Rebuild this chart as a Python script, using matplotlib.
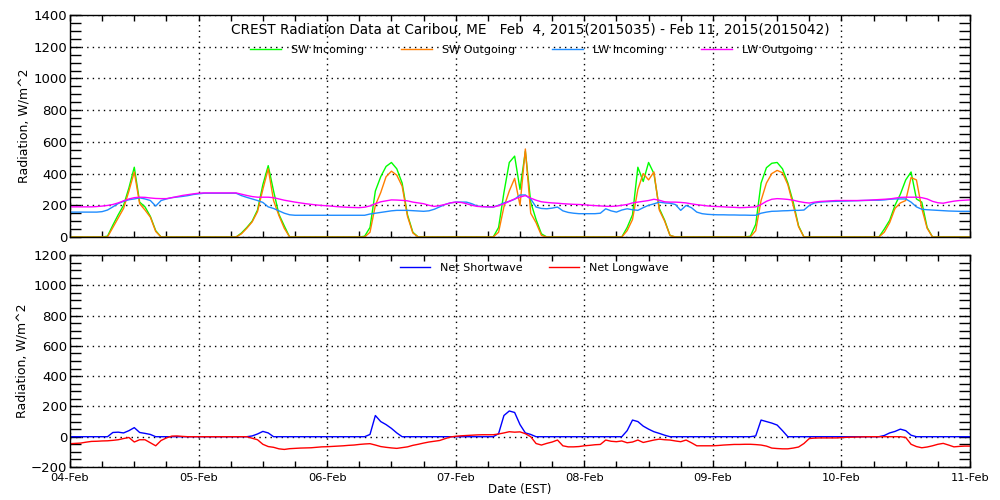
import numpy as np
import pandas as pd
import matplotlib
matplotlib.use('Agg')
import matplotlib.pyplot as plt
import matplotlib.dates as mdates
import matplotlib.transforms as mtransforms

# hourly samples, Feb 4 00:00 EST .. Feb 11 00:00 EST
times = pd.date_range('2015-02-04 00:00', periods=169, freq='h')

# W/m^2, one row per day (24 hourly values), last value = Feb 11 00:00
sw_in = [
    0, 0, 0, 0, 0, 0, 0, 5, 75, 140, 200, 310, 440, 220, 190, 130, 40, 0, 0, 0, 0, 0, 0, 0,
    0, 0, 0, 0, 0, 0, 0, 0, 25, 60, 100, 170, 330, 450, 290, 143, 70, 0, 0, 0, 0, 0, 0, 0,
    0, 0, 0, 0, 0, 0, 0, 5, 60, 290, 380, 445, 470, 430, 340, 140, 30, 0, 0, 0, 0, 0, 0, 0,
    0, 0, 0, 0, 0, 0, 0, 0, 60, 280, 470, 510, 300, 540, 220, 110, 20, 0, 0, 0, 0, 0, 0, 0,
    0, 0, 0, 0, 0, 0, 0, 0, 60, 140, 440, 350, 470, 400, 180, 106, 10, 0, 0, 0, 0, 0, 0, 0,
    0, 0, 0, 0, 0, 0, 0, 5, 80, 340, 437, 465, 470, 430, 340, 220, 70, 0, 0, 0, 0, 0, 0, 0,
    0, 0, 0, 0, 0, 0, 0, 0, 50, 105, 200, 270, 360, 410, 240, 220, 60, 0, 0, 0, 0, 0, 0, 0,
    0]

sw_out = [
    0, 0, 0, 0, 0, 0, 0, 0, 60, 120, 180, 290, 410, 210, 170, 125, 35, 0, 0, 0, 0, 0, 0, 0,
    0, 0, 0, 0, 0, 0, 0, 0, 20, 55, 95, 160, 300, 430, 230, 135, 55, 0, 0, 0, 0, 0, 0, 0,
    0, 0, 0, 0, 0, 0, 0, 0, 30, 200, 280, 380, 415, 390, 320, 130, 25, 0, 0, 0, 0, 0, 0, 0,
    0, 0, 0, 0, 0, 0, 0, 0, 30, 190, 290, 370, 200, 555, 150, 90, 10, 0, 0, 0, 0, 0, 0, 0,
    0, 0, 0, 0, 0, 0, 0, 0, 40, 110, 300, 400, 360, 410, 170, 100, 10, 0, 0, 0, 0, 0, 0, 0,
    0, 0, 0, 0, 0, 0, 0, 0, 40, 230, 340, 400, 420, 405, 330, 200, 65, 0, 0, 0, 0, 0, 0, 0,
    0, 0, 0, 0, 0, 0, 0, 0, 30, 90, 180, 215, 230, 375, 360, 180, 55, 0, 0, 0, 0, 0, 0, 0,
    0]

lw_in = [
    157, 157, 157, 157, 157, 157, 160, 170, 190, 211, 225, 235, 240, 247, 240, 230, 195, 230, 240, 248, 252, 256, 261, 268,
    272, 276, 276, 276, 276, 276, 276, 276, 261, 250, 240, 230, 218, 190, 180, 165, 150, 140, 137, 137, 137, 137, 137, 137,
    137, 137, 137, 137, 137, 137, 137, 137, 145, 150, 155, 160, 165, 168, 168, 168, 166, 164, 162, 165, 175, 190, 205, 215,
    220, 220, 220, 210, 195, 192, 190, 189, 200, 215, 225, 238, 265, 265, 240, 189, 180, 178, 182, 189, 165, 155, 150, 147,
    147, 147, 147, 150, 178, 165, 157, 170, 178, 172, 168, 185, 200, 209, 220, 215, 213, 205, 168, 199, 185, 157, 147, 143,
    141, 140, 140, 139, 139, 138, 138, 137, 137, 150, 157, 162, 163, 165, 166, 168, 168, 170, 199, 215, 220, 222, 224, 225,
    226, 227, 228, 229, 230, 231, 232, 232, 234, 238, 240, 240, 240, 220, 190, 175, 172, 170, 168, 166, 164, 163, 162, 162,
    162]

lw_out = [
    190, 190, 190, 190, 190, 192, 195, 199, 205, 215, 228, 240, 248, 251, 250, 246, 243, 242, 242, 248, 255, 262, 267, 272,
    276, 278, 278, 278, 278, 278, 278, 278, 270, 262, 255, 251, 251, 251, 248, 240, 232, 226, 220, 215, 210, 206, 202, 199,
    197, 194, 191, 189, 187, 186, 185, 188, 196, 210, 222, 228, 234, 233, 231, 228, 220, 215, 210, 200, 193, 198, 205, 215,
    220, 218, 210, 200, 193, 191, 190, 189, 198, 209, 225, 240, 252, 261, 245, 232, 222, 218, 215, 213, 210, 208, 206, 205,
    203, 200, 198, 196, 194, 193, 195, 200, 205, 215, 220, 225, 230, 238, 232, 222, 220, 220, 218, 215, 209, 204, 200, 196,
    193, 192, 190, 188, 187, 185, 186, 188, 190, 205, 225, 238, 242, 240, 237, 232, 224, 218, 214, 220, 224, 226, 228, 230,
    230, 230, 230, 230, 231, 232, 234, 236, 238, 240, 245, 250, 251, 251, 251, 248, 240, 225, 216, 213, 220, 226, 230, 232,
    234]

net_sw = [
    0, 0, 0, 0, 0, 0, 0, 0, 28, 30, 25, 40, 60, 28, 22, 15, 0, 0, 0, 0, 0, 0, 0, 0,
    0, 0, 0, 0, 0, 0, 0, 0, 0, 0, 5, 18, 35, 25, 0, 0, 0, 0, 0, 0, 0, 0, 0, 0,
    0, 0, 0, 0, 0, 0, 0, 0, 15, 140, 100, 80, 55, 25, 0, 0, 0, 0, 0, 0, 0, 0, 0, 0,
    0, 0, 0, 0, 0, 0, 0, 0, 20, 140, 170, 160, 80, 25, 15, 0, 0, 0, 0, 0, 0, 0, 0, 0,
    0, 0, 0, 0, 0, 0, 0, 0, 40, 110, 100, 70, 50, 33, 22, 10, 0, 0, 0, 0, 0, 0, 0, 0,
    0, 0, 0, 0, 0, 0, 0, 0, 5, 110, 100, 90, 77, 40, 0, 0, 0, 0, 0, 0, 0, 0, 0, 0,
    0, 0, 0, 0, 0, 0, 0, 0, 8, 25, 35, 50, 40, 10, 0, 0, 0, 0, 0, 0, 0, 0, 0, 0,
    0]

net_lw = [
    -46, -44, -42, -36, -31, -30, -28, -27, -24, -20, -12, -5, -35, -20, -20, -40, -60, -25, -8, 4, 5, 2, 0, 0,
    0, 0, 0, 0, 0, 0, 0, 0, 0, 0, -10, -20, -50, -65, -70, -80, -84, -79, -77, -75, -74, -73, -70, -67,
    -66, -64, -62, -60, -57, -55, -51, -48, -46, -55, -65, -70, -74, -77, -72, -67, -57, -50, -42, -35, -30, -25, -13, -2,
    3, 6, 8, 10, 12, 13, 13, 13, 18, 25, 33, 30, 32, 20, 0, -45, -55, -44, -35, -22, -60, -67, -67, -65,
    -60, -57, -53, -51, -22, -30, -33, -28, -40, -35, -22, -38, -30, -22, -16, -20, -22, -28, -33, -22, -40, -60, -60, -60,
    -60, -58, -55, -53, -51, -51, -50, -50, -52, -55, -62, -75, -78, -80, -80, -75, -68, -45, -12, -9, -8, -8, -8, -8,
    -6, -4, -3, -2, -1, 0, 0, 0, 0, 0, 0, 0, -5, -50, -65, -73, -68, -60, -50, -44, -55, -67, -64, -62,
    -62]

title = 'CREST Radiation Data at Caribou, ME   Feb  4, 2015(2015035) - Feb 11, 2015(2015042)'
plt.rcParams['font.family'] = ['DejaVu Sans']

fig = plt.figure(figsize=(10, 5), dpi=100)
ax1 = fig.add_axes([0.07, 0.526, 0.9, 0.444])
ax2 = fig.add_axes([0.07, 0.066, 0.9, 0.424])

ax1.plot(times, sw_in, color='#00ff00', lw=1, label='SW Incoming')
ax1.plot(times, sw_out, color='#ff7f00', lw=1, label='SW Outgoing')
ax1.plot(times, lw_in, color='#1e8cff', lw=1, label='LW Incoming')
ax1.plot(times, lw_out, color='#ff00ff', lw=1, label='LW Outgoing')
ax1.set_ylim(0, 1400)

ax2.plot(times, net_sw, color='#0000ff', lw=1, label='Net Shortwave')
ax2.plot(times, net_lw, color='#ff0000', lw=1, label='Net Longwave')
ax2.set_ylim(-200, 1200)

for ax in (ax1, ax2):
    ax.set_xlim(times[0], times[-1])
    ax.xaxis.set_major_locator(mdates.DayLocator())
    ax.xaxis.set_minor_locator(mdates.HourLocator(byhour=[6, 12, 18]))
    ax.xaxis.set_major_formatter(mdates.DateFormatter('%d-%b'))
    ax.yaxis.set_major_locator(plt.MultipleLocator(200))
    ax.yaxis.set_minor_locator(plt.MultipleLocator(50))
    ax.tick_params(axis='y', which='both', direction='in', length=8, width=1,
                   left=True, right=True, pad=2, labelsize=9.5)
    ax.tick_params(axis='x', which='both', direction='in', length=4, width=1,
                   top=True, bottom=True, pad=4, labelsize=8.2)
    ax.grid(True, which='major', color='k', linestyle=(0, (1, 3)), linewidth=1)
    for s in ax.spines.values():
        s.set_linewidth(1)
    ax.set_ylabel('Radiation, W/m^2', fontsize=9, labelpad=2)

ax1.tick_params(axis='x', labelbottom=False)
ax2.set_xlabel('Date (EST)', fontsize=8.5, labelpad=0)

# lift the lowest y label a little, as in the original
fig.canvas.draw()
lowest = ax2.get_yticklabels()[0]
lowest.set_transform(lowest.get_transform() +
                     mtransforms.ScaledTranslation(0, 3 / 72, fig.dpi_scale_trans))

ax1.text(0.512, 0.932, title, transform=ax1.transAxes, ha='center', va='center', fontsize=9.8)
ax1.legend(loc='center', bbox_to_anchor=(0.513, 0.842), ncol=4, frameon=False,
           fontsize=8, handlelength=2.8, handletextpad=0.9, columnspacing=3.3)
ax2.legend(loc='center', bbox_to_anchor=(0.516, 0.939), ncol=2, frameon=False,
           fontsize=8, handlelength=2.7, handletextpad=0.9, columnspacing=2.4)

fig.savefig('out.png', dpi=100)
